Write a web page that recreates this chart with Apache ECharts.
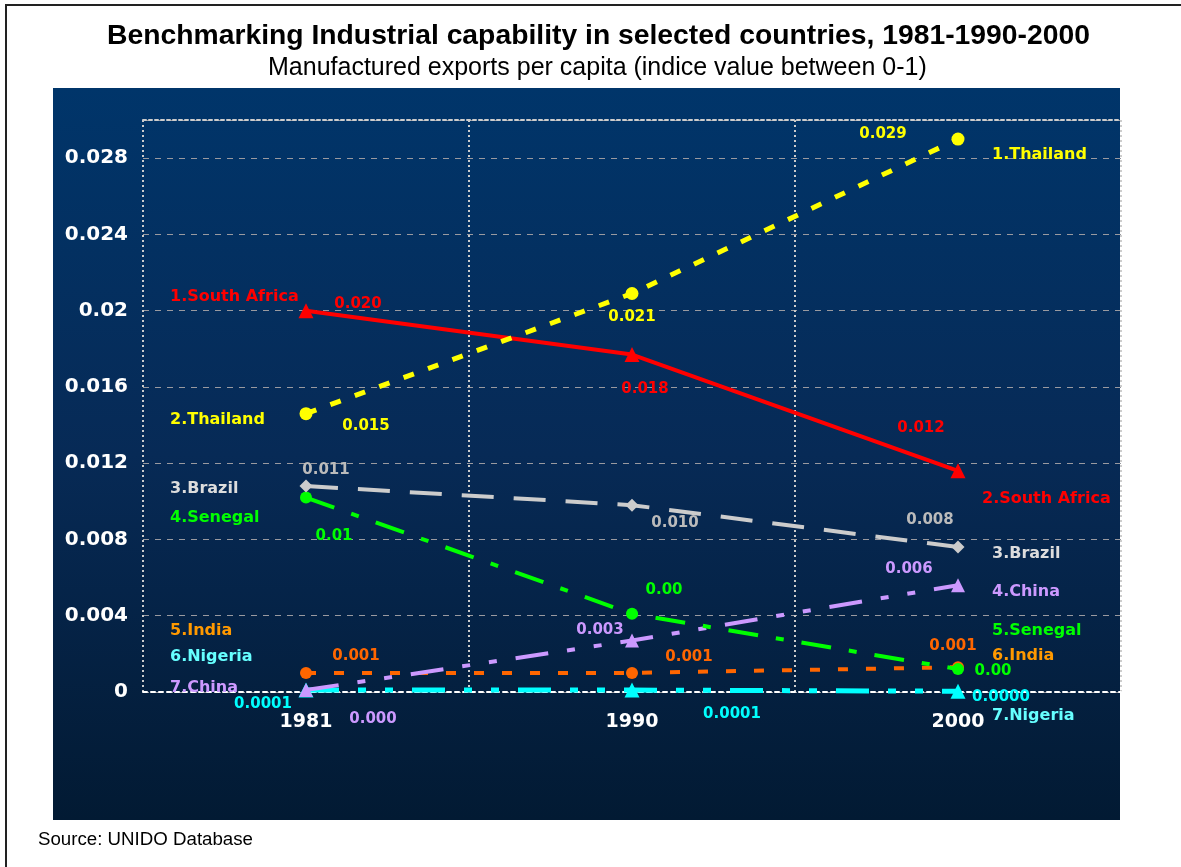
<!DOCTYPE html>
<html>
<head>
<meta charset="utf-8">
<script src="https://cdn.jsdelivr.net/npm/echarts@6/dist/echarts.min.js"></script>
<style>
  html, body { margin: 0; padding: 0; background: #ffffff; }
  #chart { width: 1181px; height: 867px; }
</style>
</head>
<body>
<div id="chart"></div>
<script>
// ---- data ----
const years = ['1981', '1990', '2000'];
const thailand    = [0.0146, 0.0209, 0.0290];
const southAfrica = [0.0200, 0.0177, 0.0116];
const brazil      = [0.0108, 0.0098, 0.0076];
const senegal     = [0.0102, 0.0041, 0.0012];
const china       = [0.0001, 0.0027, 0.0056];
const india       = [0.0010, 0.0010, 0.0013];
const nigeria     = [0.0001, 0.0001, 0.00004];

const seriesNames = ['Thailand', 'South Africa', 'Brazil', 'Senegal', 'China', 'India', 'Nigeria'];
const seriesValues = [thailand, southAfrica, brazil, senegal, china, india, nigeria];
// ranking labels at the first and last year, one per country (same order as seriesNames)
const startRanks = ['2.Thailand', '1.South Africa', '3.Brazil', '4.Senegal', '7.China', '5.India', '6.Nigeria'];
const endRanks   = ['1.Thailand', '2.South Africa', '3.Brazil', '5.Senegal', '4.China', '6.India', '7.Nigeria'];
// decimals used for each country's value labels
const valueDecimals = [3, 3, 3, 2, 3, 3, 4];
const yTickLabels = ['0', '0.004', '0.008', '0.012', '0.016', '0.02', '0.024', '0.028'];
const yStep = 0.004;

// ---- styles ----
const lineColors  = ['#FFFF00', '#FF0000', '#CCCCCC', '#00FF00', '#CC99FF', '#FF6600', '#00FFFF'];
const valueColors = ['#FFFF00', '#FF0000', '#BBBBBB', '#00FF00', '#CC99FF', '#FF6600', '#00FFFF'];
const nameColors  = ['#FFFF00', '#FF0000', '#DDDDDD', '#00FF00', '#CC99FF', '#FF9900', '#66FFFF'];
const dashes = [
  [11, 15],
  'solid',
  [32, 20],
  [30, 18, 8, 18],
  [33, 19, 8, 19, 8, 19],
  [10, 18],
  [33, 19, 8, 19, 8, 19]
];
const lineWidths = [5, 4, 4, 4, 4, 4, 5];
const symbols = ['circle', 'triangle', 'diamond', 'circle', 'triangle', 'circle', 'triangle'];
const symbolSizes = [13, 15, 13, 12, 14, 12, 15];
// value label offsets from each point, in pixels
const valueOffsets = [
  [[60, 12], [0, 24], [-75, -5]],
  [[52, -7], [13, 35], [-37, -43]],
  [[20, -16], [43, 18], [-28, -27]],
  [[28, 39], [32, -24], [35, 2]],
  [[67, 29], [-32, -10], [-49, -16]],
  [[50, -17], [57, -16], [-5, -21]],
  [[-43, 14], [100, 24], [43, 6]]
];
// rank label offsets (left edge of text) from first / last point
const startOffsets = [[-136, 6], [-136, -14], [-136, 3], [-136, 20], [-136, -2], [-136, -42], [-136, -33]];
const endOffsets   = [[34, 16], [24, 28], [34, 7], [34, -38], [34, 7], [34, -11], [34, 25]];

const labelFont = 'DejaVu Sans';

const series = seriesNames.map((name, i) => ({
  name: name,
  type: 'line',
  xAxisIndex: 0,
  yAxisIndex: 0,
  symbol: symbols[i],
  symbolSize: symbolSizes[i],
  z: 10 - i,
  lineStyle: { color: lineColors[i], width: lineWidths[i], type: dashes[i] },
  itemStyle: { color: lineColors[i] },
  data: seriesValues[i].map((v, j) => ({
    value: v,
    label: {
      show: true,
      position: 'inside',
      offset: valueOffsets[i][j],
      color: valueColors[i],
      fontFamily: labelFont,
      fontWeight: 'bold',
      fontSize: 15,
      formatter: () => v.toFixed(valueDecimals[i])
    }
  })),
  markPoint: {
    symbol: 'circle',
    symbolSize: 0,
    silent: true,
    animation: false,
    data: [
      {
        coord: [0, seriesValues[i][0]],
        label: {
          show: true, position: 'inside', align: 'left', offset: startOffsets[i],
          formatter: startRanks[i], color: nameColors[i],
          fontFamily: labelFont, fontWeight: 'bold', fontSize: 16
        }
      },
      {
        coord: [years.length - 1, seriesValues[i][years.length - 1]],
        label: {
          show: true, position: 'inside', align: 'left', offset: endOffsets[i],
          formatter: endRanks[i], color: nameColors[i],
          fontFamily: labelFont, fontWeight: 'bold', fontSize: 16
        }
      }
    ]
  }
}));

const chart = echarts.init(document.getElementById('chart'), null, { renderer: 'canvas' });
chart.setOption({
  backgroundColor: '#ffffff',
  animation: false,
  title: [
    {
      text: 'Benchmarking Industrial capability in selected countries, 1981-1990-2000',
      left: 102, top: 17, padding: 5,
      textStyle: { fontFamily: 'Liberation Sans', fontWeight: 'bold', fontSize: 28.3, color: '#000000' }
    },
    {
      text: 'Manufactured exports per capita (indice value between 0-1)',
      left: 263, top: 51, padding: 5,
      textStyle: { fontFamily: 'Liberation Sans', fontWeight: 'normal', fontSize: 25, color: '#000000' }
    },
    {
      text: 'Source: UNIDO Database',
      left: 33, top: 825, padding: 5,
      textStyle: { fontFamily: 'Liberation Sans', fontWeight: 'normal', fontSize: 18.7, color: '#000000' }
    }
  ],
  graphic: [
    {
      type: 'rect', z: -20, silent: true,
      shape: { x: 6, y: 5, width: 1200, height: 900 },
      style: { fill: 'none', stroke: '#222222', lineWidth: 2 }
    },
    {
      type: 'rect', z: -10, silent: true,
      shape: { x: 53, y: 88, width: 1067, height: 732 },
      style: {
        fill: new echarts.graphic.LinearGradient(0, 0, 0, 1, [
          { offset: 0, color: '#00356a' },
          { offset: 0.5, color: '#072a56' },
          { offset: 1, color: '#021a33' }
        ])
      }
    }
  ],
  grid: { left: 143, right: 60, top: 120, bottom: 175, containLabel: false },
  xAxis: [
    {
      type: 'category',
      data: years,
      boundaryGap: true,
      position: 'bottom',
      axisLine: { show: true, lineStyle: { color: '#ffffff', width: 2, type: [4, 4] } },
      axisTick: { show: false },
      axisLabel: {
        color: '#ffffff', fontFamily: labelFont, fontWeight: 'bold', fontSize: 19, margin: 21
      },
      splitLine: {
        show: true,
        lineStyle: { color: '#cccccc', width: 2, type: [2, 3] }
      }
    },
    {
      type: 'category',
      data: years,
      boundaryGap: true,
      position: 'top',
      axisLine: { show: true, lineStyle: { color: '#cccccc', width: 2, type: [3, 3] } },
      axisTick: { show: false },
      axisLabel: { show: false },
      splitLine: { show: false }
    }
  ],
  yAxis: {
    type: 'value',
    min: 0,
    max: 0.03,
    interval: yStep,
    axisLine: { show: false },
    axisTick: { show: false },
    axisLabel: {
      color: '#ffffff', fontFamily: labelFont, fontWeight: 'bold', fontSize: 20, margin: 15,
      formatter: (v) => {
        const k = Math.round(v / yStep);
        return Math.abs(k * yStep - v) < 1e-9 && yTickLabels[k] !== undefined ? yTickLabels[k] : '';
      }
    },
    splitLine: { show: true, lineStyle: { color: '#9a9aa0', width: 1, type: [6, 6] } }
  },
  series: series
});
</script>
</body>
</html>
